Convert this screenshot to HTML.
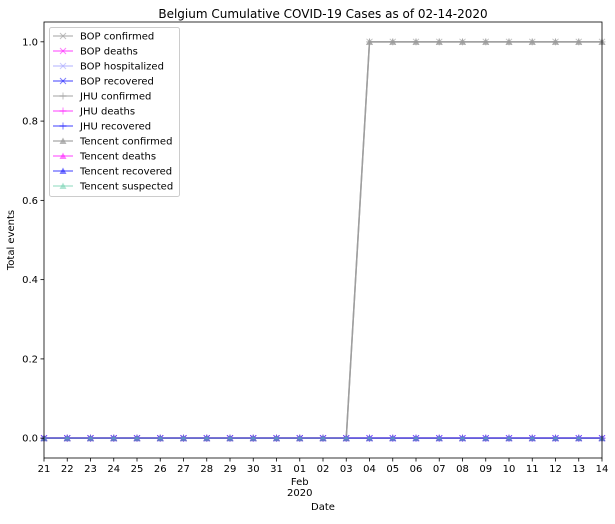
<!DOCTYPE html>
<html><head><meta charset="utf-8"><style>
body{margin:0;background:#fff;}
svg{font-family:"DejaVu Sans","Liberation Sans",sans-serif;}
</style></head><body>
<svg id="chart" width="615" height="519" xmlns="http://www.w3.org/2000/svg">
<text x="323" y="18" font-size="12" text-anchor="middle">Belgium Cumulative COVID-19 Cases as of 02-14-2020</text>
<text x="323" y="510" font-size="10" text-anchor="middle">Date</text>
<text x="14" y="240" font-size="10" text-anchor="middle" transform="rotate(-90 14 240)">Total events</text>
<g id="plot"></g>
</svg>
<script>
const dayLabels = ["21","22","23","24","25","26","27","28","29","30","31","01","02","03","04","05","06","07","08","09","10","11","12","13","14"];
const confirmedVals = [0,0,0,0,0,0,0,0,0,0,0,0,0,0,1,1,1,1,1,1,1,1,1,1,1];
const deathsVals = [0,0,0,0,0,0,0,0,0,0,0,0,0,0,0,0,0,0,0,0,0,0,0,0,0];
const recoveredVals = [0,0,0,0,0,0,0,0,0,0,0,0,0,0,0,0,0,0,0,0,0,0,0,0,0];
const yTicks = [0,0.2,0.4,0.6,0.8,1.0];
const seriesNames = ["BOP confirmed","BOP deaths","BOP hospitalized","BOP recovered","JHU confirmed","JHU deaths","JHU recovered","Tencent confirmed","Tencent deaths","Tencent recovered","Tencent suspected"];

const L=44,R=602,T=22,B=458;
const x=i=>L+(R-L)*i/(dayLabels.length-1);
const y=v=>B-(v+0.05)/1.1*(B-T);
const NS="http://www.w3.org/2000/svg";
const g=document.getElementById('plot');
function mk(t,a,p){const e=document.createElementNS(NS,t);for(const k in a)e.setAttribute(k,a[k]);(p||g).appendChild(e);return e;}

const defs=[
 {vals:confirmedVals,c:"#999",o:0.6,m:"x"},
 {vals:deathsVals,c:"#f0f",o:0.5,m:"x"},
 {vals:deathsVals,c:"#99f",o:0.5,m:"x"},
 {vals:recoveredVals,c:"#00f",o:0.5,m:"x"},
 {vals:confirmedVals,c:"#999",o:0.6,m:"+"},
 {vals:deathsVals,c:"#f0f",o:0.5,m:"+"},
 {vals:recoveredVals,c:"#00f",o:0.5,m:"+"},
 {vals:confirmedVals,c:"#999",o:0.7,m:"^"},
 {vals:deathsVals,c:"#f0f",o:0.5,m:"^"},
 {vals:recoveredVals,c:"#00f",o:0.5,m:"^"},
 {vals:deathsVals,c:"#66cdaa",o:0.5,m:"^"}
];
function marker(px,py,m,c,o,parent){
 if(m==="x"){mk('path',{d:`M${px-3},${py-3}L${px+3},${py+3}M${px-3},${py+3}L${px+3},${py-3}`,stroke:c,'stroke-opacity':o,'stroke-width':1},parent);}
 else if(m==="+"){mk('path',{d:`M${px-3.5},${py}L${px+3.5},${py}M${px},${py-3.5}L${px},${py+3.5}`,stroke:c,'stroke-opacity':o,'stroke-width':1},parent);}
 else {mk('path',{d:`M${px},${py-3.5}L${px+3.5},${py+3}L${px-3.5},${py+3}Z`,fill:c,'fill-opacity':o},parent);}
}
defs.forEach((s,si)=>{
 const sg=mk('g',{});
 
 
 const d=s.vals.map((v,i)=>(i?'L':'M')+x(i)+','+y(v)).join('');
 mk('path',{d:d,fill:'none',stroke:s.c,'stroke-opacity':s.o,'stroke-width':1.5},sg);
 s.vals.forEach((v,i)=>marker(x(i),y(v),s.m,s.c,s.o,sg));
});
// axes frame
const fr=mk('rect',{x:L,y:T,width:R-L,height:B-T,fill:'none',stroke:'#000','stroke-width':0.8});


yTicks.forEach(v=>{
 mk('line',{x1:L-3.5,x2:L,y1:y(v),y2:y(v),stroke:'#000','stroke-width':0.8});
 const t=mk('text',{x:L-6,y:y(v)+3.5,'font-size':10,'text-anchor':'end'});
 t.textContent=v.toFixed(1);
 
 
});
dayLabels.forEach((lab,i)=>{
 mk('line',{x1:x(i),x2:x(i),y1:B,y2:B+3.5,stroke:'#000','stroke-width':0.8});
 const t=mk('text',{x:x(i),y:B+14,'font-size':10,'text-anchor':'middle'});
 t.textContent=lab;
 
 
 if(lab==="01"){
  const t2=mk('text',{x:x(i),y:B+27,'font-size':10,'text-anchor':'middle'});t2.textContent="Feb";
  
  
  const t3=mk('text',{x:x(i),y:B+38,'font-size':10,'text-anchor':'middle'});t3.textContent="2020";
  
  
 }
});
// legend
const lg=mk('g',{});


mk('rect',{x:49.5,y:27.5,width:130,height:169,rx:2,fill:'#fff','fill-opacity':0.85,stroke:'#ccc'},lg);
seriesNames.forEach((n,i)=>{
 const yy=36+i*15;
 const s=defs[i];
 const e=mk('g',{},lg);
 
 
 mk('line',{x1:53,x2:73,y1:yy,y2:yy,stroke:s.c,'stroke-opacity':s.o,'stroke-width':1.5},e);
 marker(63,yy,s.m,s.c,s.o,e);
 const t=mk('text',{x:80,y:yy+3.5,'font-size':10},e);t.textContent=n;
});
</script>
</body></html>
